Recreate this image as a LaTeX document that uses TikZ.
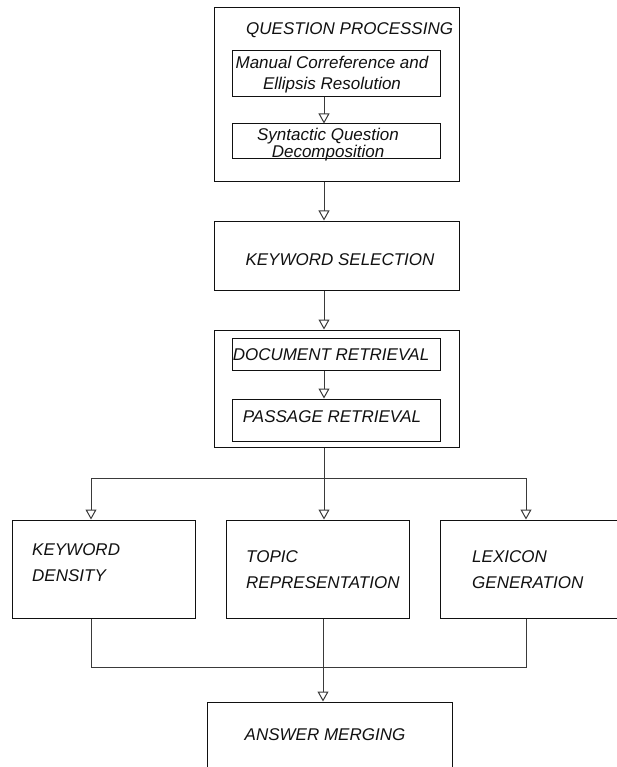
\documentclass[tikz,border=0pt]{standalone}
\usepackage{fontspec}
\setmainfont{Liberation Sans}
\usepackage{xcolor}
\usetikzlibrary{positioning,arrows.meta,calc}
\definecolor{ink}{HTML}{111111}
\definecolor{wire}{HTML}{3A3A3A}

\begin{document}
\begin{tikzpicture}[x=1pt,y=-1pt,every node/.style={font=\fontsize{17}{20}\selectfont\itshape,text=ink},
  b/.style={draw=ink,line width=1pt,fill=white,inner sep=0pt},
  t/.style={inner sep=0pt,align=left},
  a/.style={-{Triangle[open,length=10pt,width=11pt]},line width=1pt,wire},
  w/.style={line width=1pt,wire}]
  \useasboundingbox (0,0) rectangle (617,767);
  \clip (0,0) rectangle (617,767);
  % question processing
  \node[b,minimum width=245pt,minimum height=174pt] (qp) at (336.5,95) {};
  \node[t,anchor=west] (qpt) at (246,30) {QUESTION PROCESSING};
  \node[b,minimum width=208pt,minimum height=46pt] (cor) at (336,74) {};
  \node[t,align=center,font=\fontsize{17}{21}\selectfont\itshape] (cort) at (332,75) {Manual Correference and\\Ellipsis Resolution};
  \node[b,minimum width=208pt,minimum height=35pt] (dec) at (336,141.5) {};
  \node[t,align=center,font=\fontsize{17}{17}\selectfont\itshape] (dect) at (328,145) {Syntactic Question\\Decomposition};
  % keyword selection
  \node[b,minimum width=245pt,minimum height=69pt] (ks) at (336.5,255.5) {};
  \node[t] (kst) at (340,260) {KEYWORD SELECTION};
  % retrieval
  \node[b,minimum width=245pt,minimum height=117pt] (ret) at (336.5,388.5) {};
  \node[b,minimum width=208pt,minimum height=32pt] (doc) at (336,354) {};
  \node[t] (doct) at (331,355) {DOCUMENT RETRIEVAL};
  \node[b,minimum width=208pt,minimum height=42pt] (pas) at (336,420) {};
  \node[t] (past) at (332,417) {PASSAGE RETRIEVAL};
  % answer extraction
  \node[b,minimum width=183pt,minimum height=98pt] (kd) at (103.5,569) {};
  \node[t,anchor=west,font=\fontsize{17}{26}\selectfont\itshape] (kdt) at (32,563) {KEYWORD\\DENSITY};
  \node[b,minimum width=183pt,minimum height=98pt] (tr) at (317.5,569) {};
  \node[t,anchor=west,font=\fontsize{17}{26}\selectfont\itshape] (trt) at (246,570) {TOPIC\\REPRESENTATION};
  \node[b,minimum width=200pt,minimum height=98pt] (lg) at (540,569) {};
  \node[t,anchor=west,font=\fontsize{17}{26}\selectfont\itshape] (lgt) at (472,570) {LEXICON\\GENERATION};
  % answer merging
  \node[b,minimum width=245pt,minimum height=90pt] (ans) at (329.5,747) {};
  \node[t] (anst) at (325,735) {ANSWER MERGING};
  % connectors
  \coordinate (ax) at (324,0);
  \coordinate (kx) at (91,0);
  \coordinate (lx) at (526,0);
  \coordinate (fork) at (324,478);
  \coordinate (join) at (323,667);
  \draw[a] (cor.south -| ax) -- (dec.north -| ax);
  \draw[a] (qp.south -| ax) -- (ks.north -| ax);
  \draw[a] (ks.south -| ax) -- (ret.north -| ax);
  \draw[a] (doc.south -| ax) -- (pas.north -| ax);
  \draw[a] (ret.south -| ax) -- (tr.north -| ax);
  \draw[a] (fork) -| (kd.north -| kx);
  \draw[a] (fork) -| (lg.north -| lx);
  \draw[w] (kd.south -| kx) |- (join);
  \draw[w] (lg.south -| lx) |- (join);
  \draw[a] (tr.south -| join) -- (ans.north -| join);
\end{tikzpicture}
\end{document}
